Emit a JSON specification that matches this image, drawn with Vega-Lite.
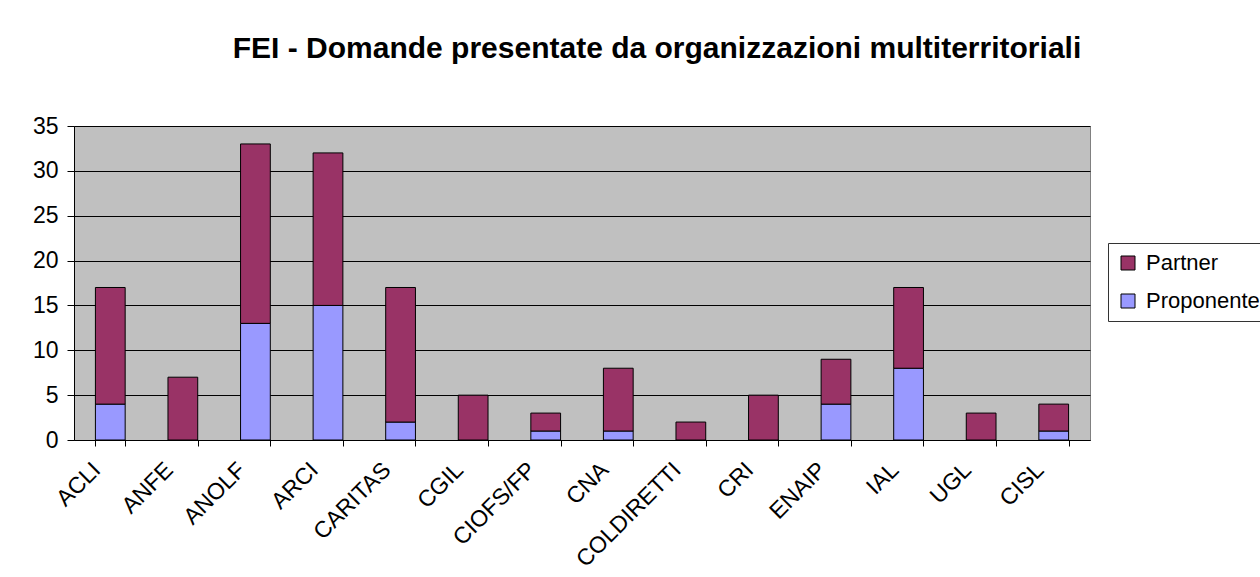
{
  "$schema": "https://vega.github.io/schema/vega-lite/v6.json",
  "autosize": {"type": "none"},
  "width": 1016,
  "height": 314,
  "padding": {"left": 74, "top": 126, "right": 170, "bottom": 137},
  "background": "white",
  "title": {
    "text": "FEI - Domande presentate da organizzazioni multiterritoriali",
    "font": "Liberation Sans",
    "fontSize": 30,
    "fontWeight": "bold",
    "color": "black",
    "anchor": "middle",
    "frame": "group",
    "dx": 75,
    "offset": 51
  },
  "data": {
    "values": [
      {"org": "ACLI", "series": "Proponente", "value": 4},
      {"org": "ACLI", "series": "Partner", "value": 13},
      {"org": "ANFE", "series": "Proponente", "value": 0},
      {"org": "ANFE", "series": "Partner", "value": 7},
      {"org": "ANOLF", "series": "Proponente", "value": 13},
      {"org": "ANOLF", "series": "Partner", "value": 20},
      {"org": "ARCI", "series": "Proponente", "value": 15},
      {"org": "ARCI", "series": "Partner", "value": 17},
      {"org": "CARITAS", "series": "Proponente", "value": 2},
      {"org": "CARITAS", "series": "Partner", "value": 15},
      {"org": "CGIL", "series": "Proponente", "value": 0},
      {"org": "CGIL", "series": "Partner", "value": 5},
      {"org": "CIOFS/FP", "series": "Proponente", "value": 1},
      {"org": "CIOFS/FP", "series": "Partner", "value": 2},
      {"org": "CNA", "series": "Proponente", "value": 1},
      {"org": "CNA", "series": "Partner", "value": 7},
      {"org": "COLDIRETTI", "series": "Proponente", "value": 0},
      {"org": "COLDIRETTI", "series": "Partner", "value": 2},
      {"org": "CRI", "series": "Proponente", "value": 0},
      {"org": "CRI", "series": "Partner", "value": 5},
      {"org": "ENAIP", "series": "Proponente", "value": 4},
      {"org": "ENAIP", "series": "Partner", "value": 5},
      {"org": "IAL", "series": "Proponente", "value": 8},
      {"org": "IAL", "series": "Partner", "value": 9},
      {"org": "UGL", "series": "Proponente", "value": 0},
      {"org": "UGL", "series": "Partner", "value": 3},
      {"org": "CISL", "series": "Proponente", "value": 1},
      {"org": "CISL", "series": "Partner", "value": 3}
    ]
  },
  "mark": {"type": "bar", "stroke": "black", "strokeWidth": 1},
  "encoding": {
    "x": {
      "field": "org",
      "type": "nominal",
      "sort": null,
      "scale": {"paddingInner": 0.59, "paddingOuter": 0.295},
      "axis": {
        "title": null,
        "labelAngle": -45,
        "labelAlign": "right",
        "labelBaseline": "middle",
        "labelFont": "Liberation Sans",
        "labelFontSize": 23,
        "labelColor": "black",
        "labelPadding": 20,
        "labelOffset": -14,
        "tickBand": "extent",
        "tickColor": "black",
        "tickSize": 6,
        "domainColor": "black",
        "labelLimit": 200
      }
    },
    "y": {
      "field": "value",
      "type": "quantitative",
      "stack": "zero",
      "scale": {"domain": [0, 35], "nice": false},
      "axis": {
        "title": null,
        "values": [0, 5, 10, 15, 20, 25, 30, 35],
        "labelFont": "Liberation Sans",
        "labelFontSize": 23,
        "labelColor": "black",
        "labelPadding": 9,
        "tickColor": "black",
        "tickSize": 7,
        "domainColor": "black",
        "grid": true,
        "gridColor": "black",
        "gridOpacity": 1
      }
    },
    "color": {
      "field": "series",
      "type": "nominal",
      "scale": {"domain": ["Partner", "Proponente"], "range": ["#993366", "#9999FF"]},
      "legend": {
        "title": null,
        "orient": "none",
        "legendX": 1034,
        "legendY": 117,
        "symbolType": "square",
        "symbolSize": 196,
        "symbolStrokeColor": "black",
        "symbolStrokeWidth": 1,
        "labelFont": "Liberation Sans",
        "labelFontSize": 22,
        "labelColor": "black",
        "labelOffset": 7,
        "rowPadding": 16,
        "padding": 9,
        "strokeColor": "#333333",
        "fillColor": "white"
      }
    },
    "order": {"field": "series", "sort": "descending"}
  },
  "config": {
    "view": {"fill": "#C0C0C0", "stroke": "#808080", "strokeWidth": 1},
    "axis": {"gridWidth": 1, "domainWidth": 1, "tickWidth": 1}
  }
}
